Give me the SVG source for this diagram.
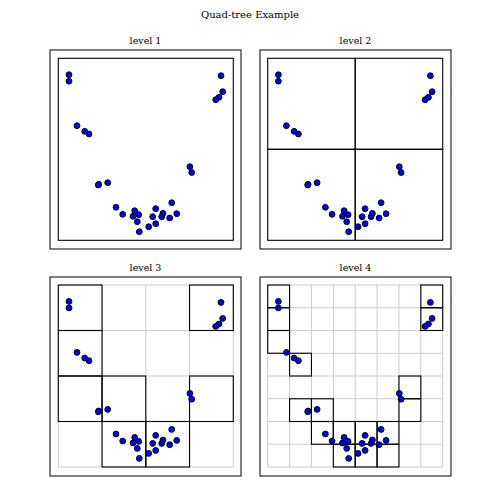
<svg xmlns="http://www.w3.org/2000/svg" xmlns:xlink="http://www.w3.org/1999/xlink" width="500" height="500" viewBox="0 0 500 500">
<style>
text{font-family:"DejaVu Serif","Liberation Serif",serif;fill:#000;text-anchor:middle}
.title{font-size:10px}
.lab{font-size:9.5px}
.frame{fill:none;stroke:#000;stroke-width:1}
.box{fill:none;stroke:#000;stroke-width:1.1}
.grid{stroke:#cccccc;stroke-width:1;fill:none}
.pt{fill:#0000ff;stroke:#000;stroke-width:1}
</style>
<defs>
<g id="pts">
<circle class="pt" cx="69" cy="74.7" r="2.9"/>
<circle class="pt" cx="69" cy="81.2" r="2.9"/>
<circle class="pt" cx="221" cy="75.7" r="2.9"/>
<circle class="pt" cx="222.7" cy="91.7" r="2.9"/>
<circle class="pt" cx="219" cy="97.3" r="2.9"/>
<circle class="pt" cx="215.7" cy="99.7" r="2.9"/>
<circle class="pt" cx="77" cy="125.7" r="2.9"/>
<circle class="pt" cx="84.7" cy="131.3" r="2.9"/>
<circle class="pt" cx="89" cy="134" r="2.9"/>
<circle class="pt" cx="189.9" cy="166.7" r="2.9"/>
<circle class="pt" cx="191.7" cy="172.5" r="2.9"/>
<circle class="pt" cx="98.7" cy="184.3" r="2.9"/>
<circle class="pt" cx="98.3" cy="185" r="2.9"/>
<circle class="pt" cx="107.7" cy="182.7" r="2.9"/>
<circle class="pt" cx="116" cy="207.3" r="2.9"/>
<circle class="pt" cx="122.7" cy="214.3" r="2.9"/>
<circle class="pt" cx="134.7" cy="210.7" r="2.9"/>
<circle class="pt" cx="133" cy="216.3" r="2.9"/>
<circle class="pt" cx="138.7" cy="214.7" r="2.9"/>
<circle class="pt" cx="137.3" cy="221.7" r="2.9"/>
<circle class="pt" cx="139.3" cy="231.7" r="2.9"/>
<circle class="pt" cx="148.7" cy="226.7" r="2.9"/>
<circle class="pt" cx="155.7" cy="223.7" r="2.9"/>
<circle class="pt" cx="152.7" cy="216.7" r="2.9"/>
<circle class="pt" cx="155.7" cy="208.7" r="2.9"/>
<circle class="pt" cx="161.7" cy="216.7" r="2.9"/>
<circle class="pt" cx="163" cy="213.3" r="2.9"/>
<circle class="pt" cx="169.7" cy="218" r="2.9"/>
<circle class="pt" cx="171.7" cy="202.7" r="2.9"/>
<circle class="pt" cx="176.7" cy="213.7" r="2.9"/>
</g>
</defs>
<rect width="500" height="500" fill="#fff"/>
<text class="title" x="250" y="18">Quad-tree Example</text>

<g id="panel1">
<text class="lab" x="145.5" y="44">level 1</text>
<rect class="frame" x="50" y="50" width="191" height="199"/>
<rect class="box" x="58.3" y="58.3" width="175" height="182"/>
<use xlink:href="#pts"/>
</g>

<g id="panel2">
<text class="lab" x="355.5" y="44">level 2</text>
<rect class="frame" x="260" y="50" width="191" height="199"/>
<g class="box">
<rect x="267.7" y="58.3" width="87.5" height="91"/>
<rect x="355.2" y="58.3" width="87.5" height="91"/>
<rect x="267.7" y="149.3" width="87.5" height="91"/>
<rect x="355.2" y="149.3" width="87.5" height="91"/>
</g>
<use xlink:href="#pts" transform="translate(209.4,0)"/>
</g>

<g id="panel3">
<text class="lab" x="145.5" y="271">level 3</text>
<rect class="frame" x="50" y="277" width="191" height="199"/>
<g class="grid">
<rect x="58.3" y="285" width="175" height="182"/>
<path d="M102.05 285V467M145.8 285V467M189.55 285V467M58.3 330.5H233.3M58.3 376H233.3M58.3 421.5H233.3"/>
</g>
<g class="box">
<rect x="58.3" y="285" width="43.75" height="45.5"/>
<rect x="189.55" y="285" width="43.75" height="45.5"/>
<rect x="58.3" y="330.5" width="43.75" height="45.5"/>
<rect x="58.3" y="376" width="43.75" height="45.5"/>
<rect x="102.05" y="376" width="43.75" height="45.5"/>
<rect x="189.55" y="376" width="43.75" height="45.5"/>
<rect x="102.05" y="421.5" width="43.75" height="45.5"/>
<rect x="145.8" y="421.5" width="43.75" height="45.5"/>
</g>
<use xlink:href="#pts" transform="translate(0,226.7)"/>
</g>

<g id="panel4">
<text class="lab" x="355.5" y="271">level 4</text>
<rect class="frame" x="260" y="277" width="191" height="199"/>
<g class="grid">
<rect x="267.7" y="285" width="175" height="182"/>
<path d="M289.575 285V467M311.45 285V467M333.325 285V467M355.2 285V467M377.075 285V467M398.95 285V467M420.825 285V467M267.7 307.75H442.7M267.7 330.5H442.7M267.7 353.25H442.7M267.7 376H442.7M267.7 398.75H442.7M267.7 421.5H442.7M267.7 444.25H442.7"/>
</g>
<g class="box">
<rect x="267.7" y="285" width="21.875" height="22.75"/>
<rect x="267.7" y="307.75" width="21.875" height="22.75"/>
<rect x="267.7" y="330.5" width="21.875" height="22.75"/>
<rect x="289.575" y="353.25" width="21.875" height="22.75"/>
<rect x="420.825" y="285" width="21.875" height="22.75"/>
<rect x="420.825" y="307.75" width="21.875" height="22.75"/>
<rect x="398.95" y="376" width="21.875" height="22.75"/>
<rect x="398.95" y="398.75" width="21.875" height="22.75"/>
<rect x="289.575" y="398.75" width="21.875" height="22.75"/>
<rect x="311.45" y="398.75" width="21.875" height="22.75"/>
<rect x="311.45" y="421.5" width="21.875" height="22.75"/>
<rect x="333.325" y="421.5" width="21.875" height="22.75"/>
<rect x="333.325" y="444.25" width="21.875" height="22.75"/>
<rect x="355.2" y="421.5" width="21.875" height="22.75"/>
<rect x="355.2" y="444.25" width="21.875" height="22.75"/>
<rect x="377.075" y="421.5" width="21.875" height="22.75"/>
<rect x="377.075" y="444.25" width="21.875" height="22.75"/>
</g>
<use xlink:href="#pts" transform="translate(209.4,226.7)"/>
</g>
</svg>
